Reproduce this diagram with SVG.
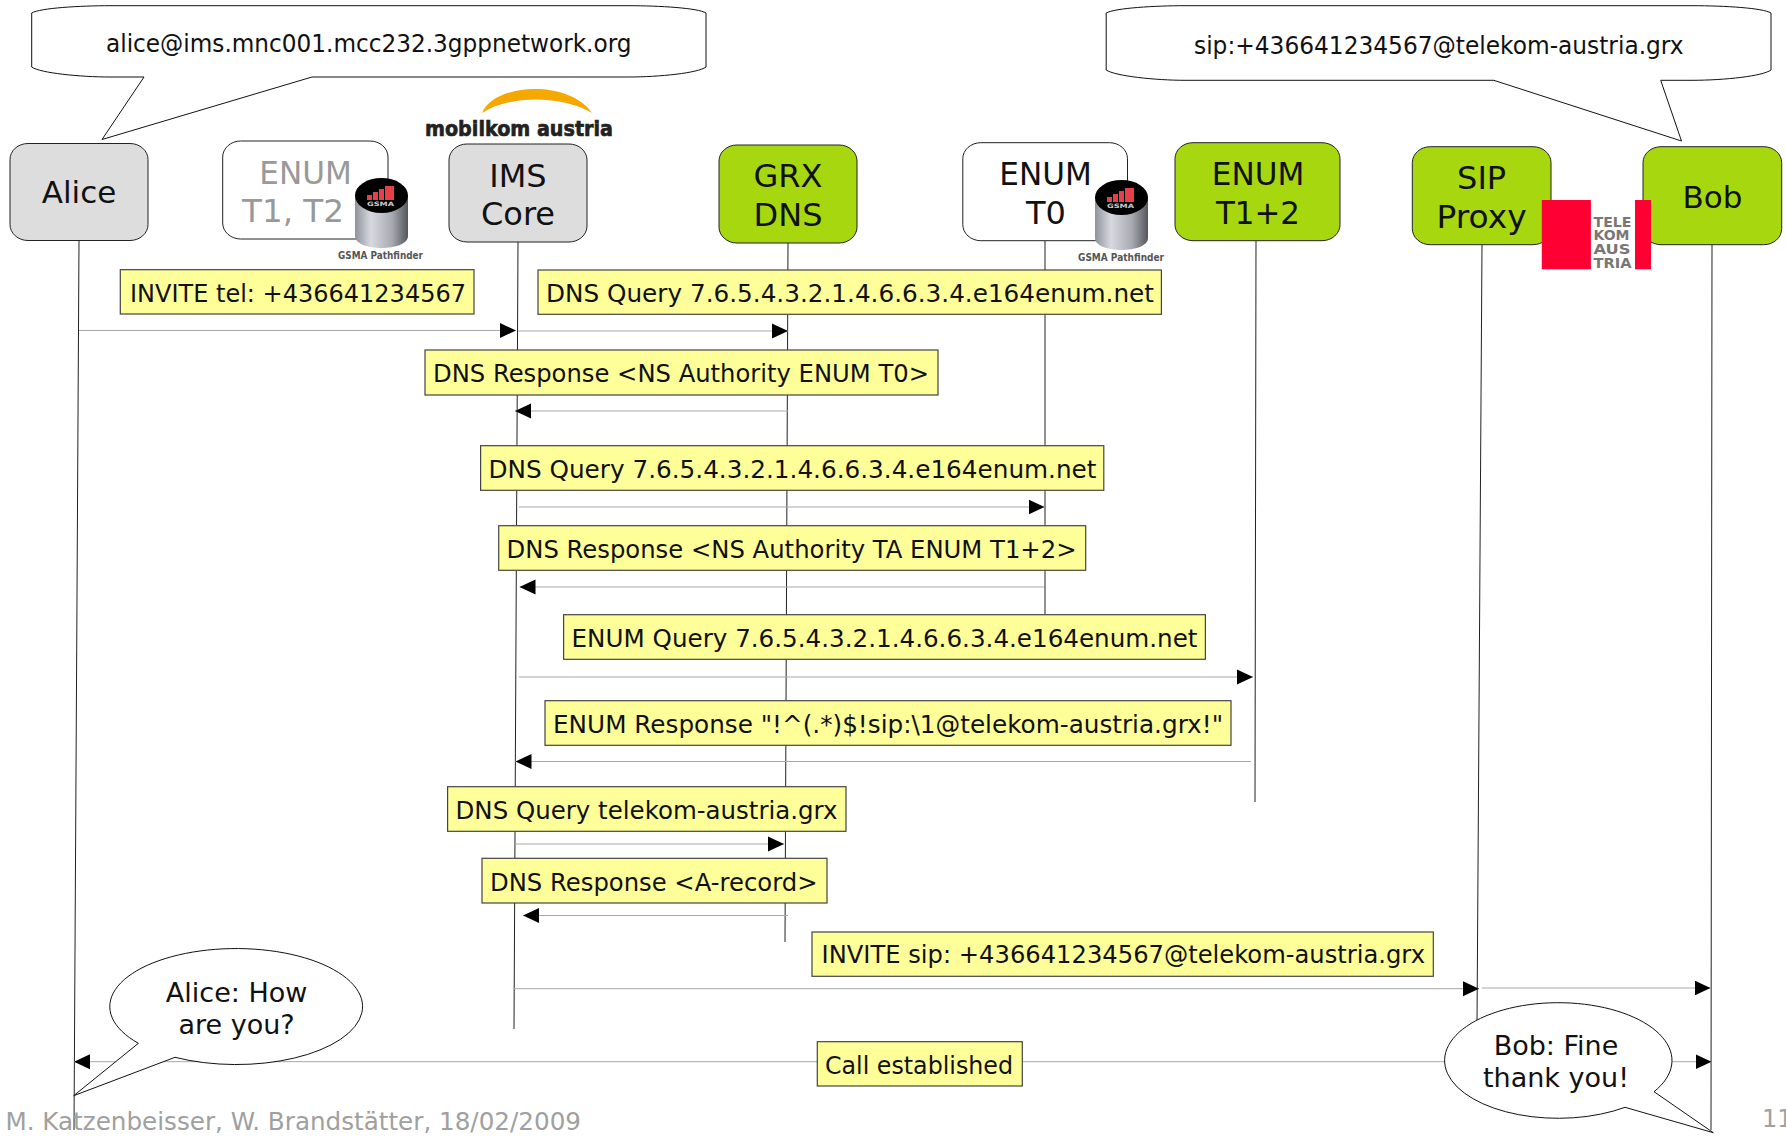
<svg xmlns="http://www.w3.org/2000/svg" width="1786" height="1136" viewBox="0 0 1786 1136">
<style>
text{font-family:"DejaVu Sans","Liberation Sans",sans-serif;fill:#111}
.box{stroke:#222;stroke-width:1}
.grey{fill:#dddddd}
.white{fill:#fff}
.green{fill:#a6d70f}
.nt{font-size:32px;text-anchor:middle}
.lab rect{fill:#ffff99;stroke:#444;stroke-width:1.2}
.lab text{font-size:24px}
.call{fill:#fff;stroke:#111;stroke-width:1}
.ct{font-size:24px}
.bt{font-size:27px;text-anchor:middle}
.ll{stroke:#222;stroke-width:1;fill:none}
.msg{stroke:#a8a8a8;stroke-width:1;fill:none;marker-end:url(#ah)}
.foot{font-size:25px;fill:#a0a0a0}
.gs{font-size:10px;font-weight:bold;fill:#555}
.tk{font-size:13.500px;font-weight:bold;fill:#777}
</style>
<defs>
<marker id="ah" markerUnits="userSpaceOnUse" markerWidth="16" markerHeight="16" refX="16" refY="8" orient="auto"><polygon points="0,0.500 16,8 0,15.500" fill="#000"/></marker>
<linearGradient id="cyl" x1="0" x2="1" y1="0" y2="0"><stop offset="0" stop-color="#8f929c"/><stop offset="0.3" stop-color="#d8d9e0"/><stop offset="0.7" stop-color="#a8aab2"/><stop offset="1" stop-color="#55565c"/></linearGradient>
<g id="pathfinder">
<path d="M0,17 V58 C0,74 53,74 53,58 V17 Z" fill="url(#cyl)"/>
<ellipse cx="26.500" cy="17.500" rx="26.500" ry="17.500" fill="#000"/>
<rect x="12" y="17" width="5" height="5" fill="#e8404a"/><rect x="18" y="14" width="5" height="8" fill="#e8404a"/><rect x="24" y="11" width="5" height="11" fill="#e8404a"/><rect x="30" y="8" width="9" height="14" fill="#e8404a"/>
<text x="12" y="28" font-size="6" font-weight="bold" style="fill:#ccc" textLength="27" lengthAdjust="spacingAndGlyphs">GSMA</text>
</g>
</defs>
<rect width="1786" height="1136" fill="#fff"/>

<g id="connectors">
<path class="ll" d="M79,241 L74,1130"/>
<path class="ll" d="M518,242 L514,1029"/>
<path class="ll" d="M788,243 L785,942"/>
<path class="ll" d="M1045,241 V620"/>
<path class="ll" d="M1256,241 L1255,802"/>
<path class="ll" d="M1482,245 L1477,1025"/>
<path class="ll" d="M1712,245 L1711,1130"/>
<path class="msg" d="M79,330.500 H516"/>
<path class="msg" d="M518,331 H788"/>
<path class="msg" d="M788,411 H515"/>
<path class="msg" d="M519,507 H1044.500"/>
<path class="msg" d="M1044,587 H519.500"/>
<path class="msg" d="M519,677 H1253"/>
<path class="msg" d="M1251,761.500 H515.500"/>
<path class="msg" d="M515,844 H784"/>
<path class="msg" d="M788,915.500 H523"/>
<path class="msg" d="M514,988.700 H1479"/>
<path class="msg" d="M1482,988 H1710.500"/>
<path class="msg" d="M817,1061.700 H74"/>
<path class="msg" d="M1022,1061.700 H1711.500"/>
</g>

<g id="node-alice"><rect class="box grey" x="10" y="143.500" width="138" height="97" rx="18" ry="16"/><text class="nt" x="79" y="203" style="font-size:31px">Alice</text></g>
<g id="node-enum-t1t2"><rect class="box white" x="222.700" y="141" width="165.300" height="98" rx="18" ry="16"/><text class="nt" x="305.500" y="184" style="fill:#999" textLength="92.500" lengthAdjust="spacingAndGlyphs">ENUM</text><text class="nt" x="293" y="222" style="fill:#999" textLength="102" lengthAdjust="spacingAndGlyphs">T1, T2</text><use href="#pathfinder" x="355" y="178"/><text class="gs" x="338" y="259" textLength="85" lengthAdjust="spacingAndGlyphs">GSMA Pathfinder</text></g>
<g id="node-ims"><path d="M482,113 C495,82 570,80 592,113 C565,96 510,94 482,113 Z" fill="#f5a800"/><text x="425" y="136" font-size="22" font-weight="bold" style="fill:#222;stroke:#222;stroke-width:.7" textLength="188" lengthAdjust="spacingAndGlyphs">mobilkom austria</text><rect class="box grey" x="449" y="144" width="138" height="98" rx="18" ry="16"/><text class="nt" x="518" y="186.700">IMS</text><text class="nt" x="518" y="225">Core</text></g>
<g id="node-grx"><rect class="box green" x="719" y="145" width="138" height="98" rx="18" ry="16"/><text class="nt" x="788" y="187">GRX</text><text class="nt" x="788" y="226">DNS</text></g>
<g id="node-enum-t0"><rect class="box white" x="962.800" y="142.700" width="164.700" height="98" rx="18" ry="16"/><text class="nt" x="1045.500" y="185.300" textLength="92.500" lengthAdjust="spacingAndGlyphs">ENUM</text><text class="nt" x="1046" y="223.500">T0</text><use href="#pathfinder" x="1095" y="180"/><text class="gs" x="1078" y="261" textLength="86" lengthAdjust="spacingAndGlyphs">GSMA Pathfinder</text></g>
<g id="node-enum-t12"><rect class="box green" x="1175" y="142.700" width="165" height="98" rx="18" ry="16"/><text class="nt" x="1258" y="185.300" textLength="92.500" lengthAdjust="spacingAndGlyphs">ENUM</text><text class="nt" x="1258" y="223.500" textLength="84" lengthAdjust="spacingAndGlyphs">T1+2</text></g>
<g id="node-sip"><rect class="box green" x="1412.300" y="146.700" width="138.700" height="98" rx="18" ry="16"/><text class="nt" x="1481.600" y="188.800">SIP</text><text class="nt" x="1481.600" y="228" textLength="90" lengthAdjust="spacingAndGlyphs">Proxy</text></g>
<g id="node-bob"><rect class="box green" x="1643" y="146.700" width="138.700" height="98" rx="18" ry="16"/><text class="nt" x="1712.400" y="208" style="font-size:31px">Bob</text></g>
<g id="logo-telekom"><rect x="1541.800" y="200" width="49.100" height="69.300" fill="#ff0033"/><rect x="1635" y="200" width="16" height="69.300" fill="#ff0033"/><text class="tk" x="1593.500" y="226.700" textLength="38" lengthAdjust="spacingAndGlyphs">TELE</text><text class="tk" x="1593.500" y="240.300" textLength="36" lengthAdjust="spacingAndGlyphs">KOM</text><text class="tk" x="1593.500" y="254.300" textLength="37" lengthAdjust="spacingAndGlyphs">AUS</text><text class="tk" x="1593.500" y="267.700" textLength="38" lengthAdjust="spacingAndGlyphs">TRIA</text></g>

<g id="callout-alice-uri"><path class="call" d="M31.700,13 C40,8 80,5.700 110,5.700 H628 C660,5.700 698,8 706,13 V67 C698,73 660,77 628,77 H312 L102,139.500 L144,77 H110 C80,77 40,73 31.700,67 Z"/><text class="ct" x="106" y="52" textLength="525.500" lengthAdjust="spacingAndGlyphs">alice@ims.mnc001.mcc232.3gppnetwork.org</text></g>
<g id="callout-bob-uri"><path class="call" d="M1106.200,13 C1115,8 1155,5.700 1185,5.700 H1692 C1725,5.700 1763,8 1771,13 V70 C1763,76 1725,80.300 1692,80.300 H1660.700 L1681.500,141 L1493.800,80.300 H1185 C1155,80.300 1115,76 1106.200,70 Z"/><text class="ct" x="1194" y="53.800" textLength="489.600" lengthAdjust="spacingAndGlyphs">sip:+436641234567@telekom-austria.grx</text></g>

<g id="label-1" class="lab"><rect x="120.300" y="269.700" width="353.700" height="44.300"/><text x="130" y="301.700" textLength="336" lengthAdjust="spacingAndGlyphs">INVITE tel: +436641234567</text></g>
<g id="label-2" class="lab"><rect x="538" y="270" width="623.400" height="44.300"/><text x="546" y="301.700" textLength="608" lengthAdjust="spacingAndGlyphs">DNS Query 7.6.5.4.3.2.1.4.6.6.3.4.e164enum.net</text></g>
<g id="label-3" class="lab"><rect x="425" y="350" width="513" height="45"/><text x="433" y="381.700" textLength="496" lengthAdjust="spacingAndGlyphs">DNS Response &lt;NS Authority ENUM T0&gt;</text></g>
<g id="label-4" class="lab"><rect x="480.600" y="445.700" width="623.200" height="44.600"/><text x="488.500" y="478" textLength="608" lengthAdjust="spacingAndGlyphs">DNS Query 7.6.5.4.3.2.1.4.6.6.3.4.e164enum.net</text></g>
<g id="label-5" class="lab"><rect x="498.700" y="525.700" width="587" height="44.600"/><text x="506.500" y="558" textLength="570" lengthAdjust="spacingAndGlyphs">DNS Response &lt;NS Authority TA ENUM T1+2&gt;</text></g>
<g id="label-6" class="lab"><rect x="563.600" y="614.700" width="641.800" height="44.600"/><text x="571.500" y="646.700" textLength="626" lengthAdjust="spacingAndGlyphs">ENUM Query 7.6.5.4.3.2.1.4.6.6.3.4.e164enum.net</text></g>
<g id="label-7" class="lab"><rect x="545" y="700.700" width="686" height="44.600"/><text x="553" y="733.300" textLength="670" lengthAdjust="spacingAndGlyphs">ENUM Response "!^(.*)$!sip:\1@telekom-austria.grx!"</text></g>
<g id="label-8" class="lab"><rect x="447.600" y="786.700" width="398.400" height="44.600"/><text x="455.500" y="819" textLength="382" lengthAdjust="spacingAndGlyphs">DNS Query telekom-austria.grx</text></g>
<g id="label-9" class="lab"><rect x="482" y="858.300" width="345" height="44.700"/><text x="490" y="890.500" textLength="327.500" lengthAdjust="spacingAndGlyphs">DNS Response &lt;A-record&gt;</text></g>
<g id="label-10" class="lab"><rect x="812" y="932" width="621.300" height="44.300"/><text x="821.500" y="963.300" textLength="603.500" lengthAdjust="spacingAndGlyphs">INVITE sip: +436641234567@telekom-austria.grx</text></g>
<g id="label-11" class="lab"><rect x="817.300" y="1041.700" width="205" height="44.300"/><text x="825" y="1073.700" textLength="188" lengthAdjust="spacingAndGlyphs">Call established</text></g>

<g id="bubble-alice"><path class="call" d="M138.400,1043.300 A126.400,58 0 1 1 175,1057.300 L73.700,1095.700 Z"/><text class="bt" x="236.600" y="1001.700">Alice: How</text><text class="bt" x="236.600" y="1034">are you?</text></g>
<g id="bubble-bob"><path class="call" d="M1654,1091.700 A113.700,57.800 0 1 0 1625,1107.300 L1713.300,1132.700 Z"/><text class="bt" x="1556" y="1055">Bob: Fine</text><text class="bt" x="1556" y="1086.700">thank you!</text></g>

<text class="foot" x="5.400" y="1130" textLength="575.600" lengthAdjust="spacingAndGlyphs">M. Katzenbeisser, W. Brandstätter, 18/02/2009</text>
<text class="foot" x="1762" y="1127" style="font-size:24px">11</text>
</svg>
